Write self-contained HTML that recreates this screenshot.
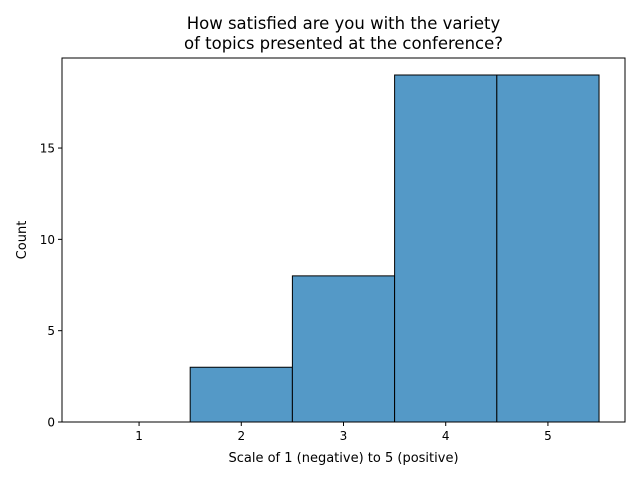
<!DOCTYPE html>
<html><head><meta charset="utf-8"><style>
body{margin:0;background:#fff;}
svg text{font-family:"DejaVu Sans","Liberation Sans",sans-serif;fill:#000;}
</style></head><body>
<svg id="chart" width="640" height="480" xmlns="http://www.w3.org/2000/svg">
<rect width="640" height="480" fill="#fff"/>
<text x="343.5" y="29" font-size="16.5" text-anchor="middle">How satisfied are you with the variety</text>
<text x="343.5" y="49" font-size="16.5" text-anchor="middle">of topics presented at the conference?</text>
<g id="bars"></g>
<g id="xticks"></g>
<g id="yticks"></g>
<rect x="62" y="58" width="563" height="364" fill="none" stroke="#000" stroke-width="1"/>
<text x="343.5" y="462" font-size="13" text-anchor="middle">Scale of 1 (negative) to 5 (positive)</text>
<text x="26" y="240" font-size="13" text-anchor="middle" transform="rotate(-90 26 240)">Count</text>
</svg>
<script>
const categories=[1,2,3,4,5];
const counts=[0,3,8,19,19];
const xTickLabels=["1","2","3","4","5"];
const yTickValues=[0,5,10,15];

const L=62,R=625,T=58,B=422;
const xMin=0.246,xMax=5.754,yMin=0,yMax=19.93;
const xs=v=>L+(v-xMin)/(xMax-xMin)*(R-L);
const ys=v=>B-(v-yMin)/(yMax-yMin)*(B-T);
const NS="http://www.w3.org/2000/svg";
const bars=document.getElementById('bars');
categories.forEach((c,i)=>{
  const r=document.createElementNS(NS,'path');
  const x0=xs(c-0.5),x1=xs(c+0.5),y=ys(counts[i]),y0=ys(0);
  r.setAttribute('d',`M${x0},${y0} L${x0},${y} L${x1},${y} L${x1},${y0} Z`);
  r.setAttribute('fill','#5499c7');r.setAttribute('stroke','#000');r.setAttribute('stroke-width','1');
  
  
  bars.appendChild(r);
});
const xt=document.getElementById('xticks');
categories.forEach((c,i)=>{
  const x=xs(c);
  const l=document.createElementNS(NS,'line');
  l.setAttribute('x1',x);l.setAttribute('x2',x);l.setAttribute('y1',B);l.setAttribute('y2',B+4);l.setAttribute('stroke','#000');
  
  
  xt.appendChild(l);
  const t=document.createElementNS(NS,'text');
  t.setAttribute('x',x);t.setAttribute('y',B+18);t.setAttribute('font-size','12');t.setAttribute('text-anchor','middle');
  t.textContent=xTickLabels[i];
  
  
  xt.appendChild(t);
});
const yt=document.getElementById('yticks');
yTickValues.forEach(v=>{
  const y=ys(v);
  const l=document.createElementNS(NS,'line');
  l.setAttribute('x1',L-4);l.setAttribute('x2',L);l.setAttribute('y1',y);l.setAttribute('y2',y);l.setAttribute('stroke','#000');
  
  
  yt.appendChild(l);
  const t=document.createElementNS(NS,'text');
  t.setAttribute('x',L-7);t.setAttribute('y',y+4.5);t.setAttribute('font-size','12');t.setAttribute('text-anchor','end');
  t.textContent=v;
  
  
  yt.appendChild(t);
});
</script>
</body></html>
